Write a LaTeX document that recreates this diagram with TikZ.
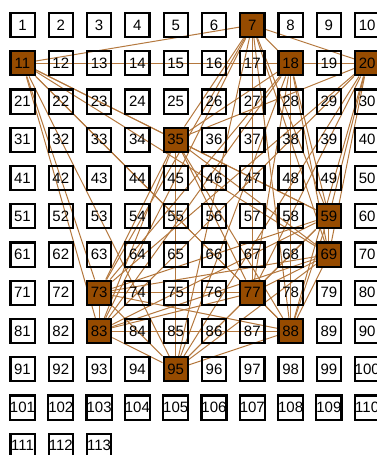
\documentclass[tikz,border=0pt]{standalone}
\usepackage{fontspec}
\setmainfont{Liberation Sans}
\usetikzlibrary{backgrounds}

\definecolor{hubfill}{RGB}{150,75,0}
\definecolor{linkcol}{RGB}{180,120,62}

\tikzset{
	box/.style={draw=black, line width=2.2pt, minimum size=24.2pt, inner sep=0pt,
		font=\fontsize{15}{15}\selectfont},
	hub/.style={box, fill=hubfill},
	link/.style={draw=linkcol, line width=1pt}
}

\begin{document}
\begin{tikzpicture}[x=1pt,y=-1pt]
	\useasboundingbox (0,0) rectangle (377,455);
	\clip (0,0) rectangle (377,455);

	% numbered cells, ten to a row
	\foreach \k in {1,...,113} {
		\pgfmathtruncatemacro{\col}{mod(\k-1,10)}
		\pgfmathtruncatemacro{\row}{div(\k-1,10)}
		\gdef\sty{box}
		\foreach \h in {7,11,18,20,35,59,69,73,77,83,88,95} {\ifnum\k=\h\relax\gdef\sty{hub}\fi}
		\node[style/.expanded=\sty] (n\k) at (22.5+38.3*\col, 25+38.25*\row) {\k};
	}

	% every filled cell joined to every other
	\begin{scope}[on background layer]
		\foreach \a [count=\i] in {7,11,18,20,35,59,69,73,77,83,88,95} {
			\foreach \b [count=\j] in {7,11,18,20,35,59,69,73,77,83,88,95} {
				\ifnum\j>\i\relax \draw[link] (n\a) -- (n\b); \fi
			}
		}
	\end{scope}
\end{tikzpicture}
\end{document}
